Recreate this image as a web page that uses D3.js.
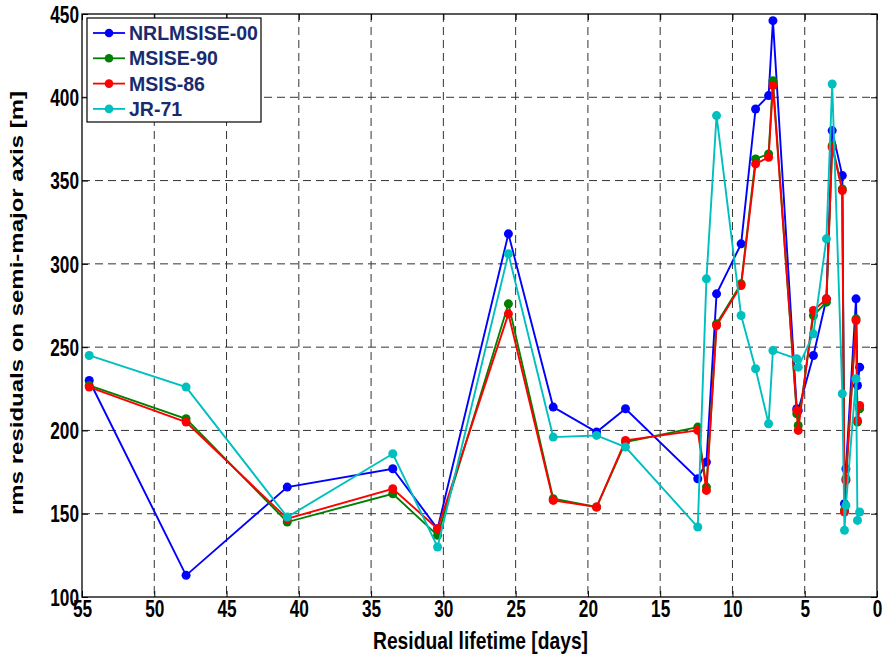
<!DOCTYPE html>
<html>
<head>
    <script src="https://d3js.org/d3.v7.min.js"></script>
    <style>
        body { margin: 0; background: #fff; }
        text { font-family: "Liberation Sans", Arial, sans-serif; font-weight: bold; }
    </style>
</head>
<body>
    <svg width="883" height="657"></svg>
    <script>
        // residual lifetime (days) of each orbit determination
        var days = [54.5, 47.8, 40.8, 33.5, 30.4, 25.5, 22.4, 19.4, 17.4, 12.4, 11.8, 11.1, 9.4, 8.4, 7.5, 7.2, 5.55, 5.45, 4.4, 3.5, 3.1, 2.4, 2.25, 2.15, 1.45, 1.35, 1.2];
        var nrlmsise00 = [230, 113, 166, 177, 141, 318, 214, 199, 213, 171, 181, 282, 312, 393, 401, 446, 213, 212, 245, 279, 380, 353, 156, 177, 279, 227, 238];
        var msise90 = [227, 207, 145, 162, 137, 276, 159, 154, 193, 202, 166, 264, 288, 363, 366, 410, 210, 203, 269, 277, 371, 345, 152, 171, 267, 205, 213];
        var msis86 = [226, 205, 147, 165, 141, 270, 158, 154, 194, 200, 164, 263, 287, 360, 364, 407, 212, 200, 272, 279, 370, 344, 151, 170, 266, 206, 215];
        var jr71 = [245, 226, 148, 186, 130, 306, 196, 197, 190, 142, 291, 389, 269, 237, 204, 248, 243, 238, 258, 315, 408, 222, 140, 155, 231, 146, 151];

        var seriesNames = ["NRLMSISE-00", "MSISE-90", "MSIS-86", "JR-71"];
        var seriesValues = [nrlmsise00, msise90, msis86, jr71];
        var colors = ["#0000ff", "#008000", "#ff0000", "#00bfbf"];

        var xTicks = d3.range(0, 56, 5);
        var yTicks = d3.range(100, 451, 50);

        var svg = d3.select("svg"),
            pLeft = 82, pRight = 877, pTop = 14, pBottom = 597,
            width = pRight - pLeft,
            height = pBottom - pTop,
            squeeze = 0.75;

        var x = d3.scaleLinear().domain([55, 0]).range([pLeft, pRight]);
        var y = d3.scaleLinear().domain([100, 450]).range([pBottom, pTop]);

        // dashed grid
        var grid = svg.append("g").attr("class", "grid");
        grid.selectAll(".vg").data(xTicks.filter(function(d) { return d > 0 && d < 55; }))
            .enter().append("line")
            .attr("x1", function(d) { return x(d); }).attr("x2", function(d) { return x(d); })
            .attr("y1", pTop).attr("y2", pBottom);
        grid.selectAll(".hg").data(yTicks.filter(function(d) { return d > 100 && d < 450; }))
            .enter().append("line")
            .attr("y1", function(d) { return y(d); }).attr("y2", function(d) { return y(d); })
            .attr("x1", pLeft).attr("x2", pRight);
        grid.selectAll("line")
            .attr("stroke", "#333").attr("stroke-width", 1).attr("stroke-dasharray", "8,5");

        // axes with inward ticks
        var xAxis = svg.append("g").attr("transform", "translate(0," + pBottom + ")")
            .call(d3.axisBottom(x).tickValues(xTicks).tickSize(-6).tickPadding(4));
        var yAxis = svg.append("g").attr("transform", "translate(" + pLeft + ",0)")
            .call(d3.axisLeft(y).tickValues(yTicks).tickSize(-6).tickPadding(3));
        svg.append("g").attr("transform", "translate(0," + pTop + ")")
            .call(d3.axisTop(x).tickValues(xTicks).tickSize(-6).tickFormat(""));
        svg.append("g").attr("transform", "translate(" + pRight + ",0)")
            .call(d3.axisRight(y).tickValues(yTicks).tickSize(-6).tickFormat(""));

        svg.selectAll(".domain").remove();
        svg.selectAll(".tick line").attr("stroke", "#000");

        [xAxis, yAxis].forEach(function(ax) {
            ax.selectAll("text")
                .attr("fill", "#000")
                .style("font-size", "23px")
                .each(function() {
                    var len = this.getComputedTextLength();
                    d3.select(this).attr("textLength", len * squeeze).attr("lengthAdjust", "spacingAndGlyphs");
                });
        });
        yAxis.selectAll("text").attr("dy", "0.36em");

        // frame
        svg.append("rect")
            .attr("x", pLeft).attr("y", pTop).attr("width", width).attr("height", height)
            .attr("fill", "none").attr("stroke", "#000").attr("stroke-width", 1.3);

        // series
        var line = d3.line()
            .x(function(d) { return x(d[0]); })
            .y(function(d) { return y(d[1]); });

        seriesValues.forEach(function(vals, i) {
            var pts = days.map(function(d, j) { return [d, vals[j]]; });
            var g = svg.append("g");
            g.append("path")
                .datum(pts)
                .attr("d", line)
                .attr("fill", "none")
                .attr("stroke", colors[i])
                .attr("stroke-width", 1.9);
            g.selectAll("circle").data(pts).enter().append("circle")
                .attr("cx", function(d) { return x(d[0]); })
                .attr("cy", function(d) { return y(d[1]); })
                .attr("r", 4.5)
                .attr("fill", colors[i]);
        });

        // axis labels
        svg.append("text")
            .attr("x", (pLeft + pRight) / 2 + 1)
            .attr("y", 649)
            .attr("text-anchor", "middle")
            .style("font-size", "24px")
            .attr("textLength", 215)
            .attr("lengthAdjust", "spacingAndGlyphs")
            .text("Residual lifetime [days]");

        svg.append("text")
            .attr("transform", "translate(23,303) rotate(-90) scale(1," + squeeze + ")")
            .attr("text-anchor", "middle")
            .style("font-size", "24px")
            .text("rms residuals on semi-major axis [m]");

        // legend
        var legend = svg.append("g");
        legend.append("rect")
            .attr("x", 87).attr("y", 18).attr("width", 174).attr("height", 104)
            .attr("fill", "#fff").attr("stroke", "#000").attr("stroke-width", 1.2);
        seriesNames.forEach(function(name, i) {
            var cy = 33 + i * 25.3;
            legend.append("line")
                .attr("x1", 93).attr("x2", 125).attr("y1", cy).attr("y2", cy)
                .attr("stroke", colors[i]).attr("stroke-width", 1.8);
            legend.append("circle")
                .attr("cx", 109).attr("cy", cy).attr("r", 4.3).attr("fill", colors[i]);
            legend.append("text")
                .attr("x", 129).attr("y", cy + 7)
                .style("font-size", "19.5px")
                .attr("fill", "#1a2b6d")
                .text(name);
        });
    </script>
</body>
</html>
